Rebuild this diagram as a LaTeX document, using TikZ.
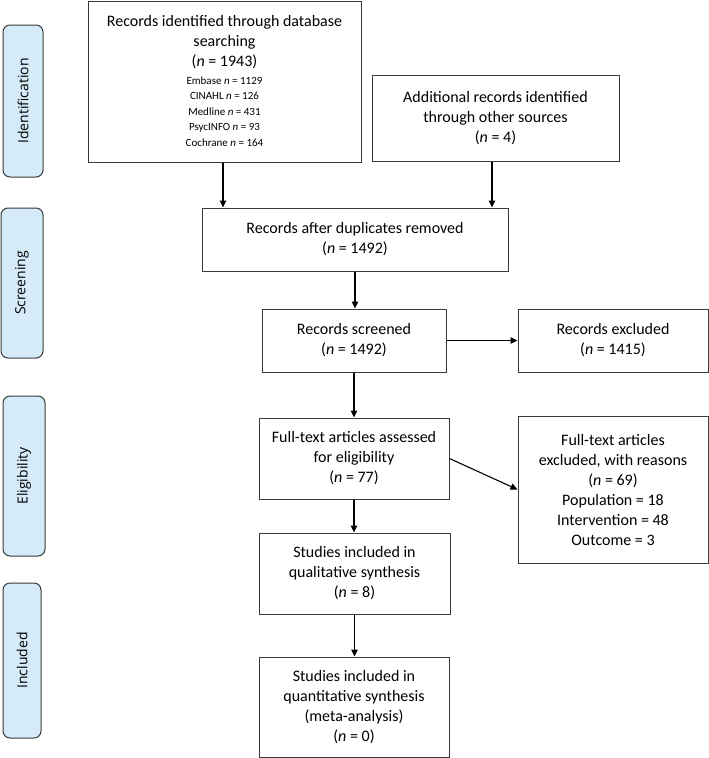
\documentclass[tikz,border=0pt]{standalone}
\usepackage{fontspec}
\setmainfont{Carlito}
\newfontfamily\labelfont{Open Sans}
\usetikzlibrary{arrows.meta}
\definecolor{stagefill}{HTML}{D5EBFA}
\definecolor{edge}{HTML}{3A3A3A}
\tikzset{
  box/.style={draw=edge, line width=1pt, fill=white, align=center, inner sep=0pt,
    font=\fontsize{16}{20}\selectfont},
  txt/.style={align=center, inner sep=0pt, font=\fontsize{16}{20}\selectfont},
  smalltxt/.style={align=center, inner sep=0pt, font=\fontsize{11}{15.5}\selectfont},
  stage/.style={draw=edge, line width=1pt, fill=stagefill, rounded corners=7pt,
    inner sep=0pt},
  stagetxt/.style={rotate=90, inner sep=0pt, font=\labelfont\fontsize{14}{16}\selectfont},
  arr/.style={draw=black, line width=1.1pt, -{Triangle[length=7pt,width=6.5pt]}}
}
\begin{document}
\begin{tikzpicture}[x=1pt,y=-1pt]
\useasboundingbox (0,0) rectangle (709,758);

% stage labels
\node[stage, minimum width=40pt, minimum height=152pt] (sid) at (23,101) {};
\node[stagetxt] (tid) at (sid.center) {Identification};
\node[stage, minimum width=42pt, minimum height=150pt] (ssc) at (22,283) {};
\node[stagetxt] (tsc) at (ssc.center) {Screening};
\node[stage, minimum width=42pt, minimum height=160pt] (sel) at (24,476) {};
\node[stagetxt] (tel) at (sel.center) {Eligibility};
\node[stage, minimum width=38pt, minimum height=155pt] (sin) at (22,660.5) {};
\node[stagetxt] (tin) at (sin.center) {Included};

% database box
\node[box, minimum width=273pt, minimum height=161pt] (db) at (224.5,81.5) {};
\node[txt] (dbtitle) at (224.5,42) {Records identified through database\\searching\\(\textit{n} = 1943)};
\node[smalltxt] (dblist) at (224.5,111.5) {Embase \textit{n} = 1129\\CINAHL \textit{n} = 126\\Medline \textit{n} = 431\\PsycINFO \textit{n} = 93\\Cochrane \textit{n} = 164};

\node[box, minimum width=247pt, minimum height=86pt] (add) at (495.5,118)
  {Additional records identified\\through other sources\\(\textit{n} = 4)};

\node[box, minimum width=306pt, minimum height=63pt] (dup) at (355,239.5)
  {Records after duplicates removed\\(\textit{n} = 1492)};

\node[box, minimum width=184pt, minimum height=63pt] (scr) at (354,340.5)
  {Records screened\\(\textit{n} = 1492)};

\node[box, minimum width=190pt, minimum height=63pt] (exc) at (613,340.5)
  {Records excluded\\(\textit{n} = 1415)};

\node[box, minimum width=190pt, minimum height=81pt] (full) at (354,458.5)
  {Full-text articles assessed\\for eligibility\\(\textit{n} = 77)};

\node[box, minimum width=190pt, minimum height=147pt] (rsn) at (613,489.5)
  {Full-text articles\\excluded, with reasons\\(\textit{n} = 69)\\Population = 18\\Intervention = 48\\Outcome = 3};

\node[box, minimum width=191pt, minimum height=81pt] (qual) at (354.5,573.5)
  {Studies included in\\qualitative synthesis\\(\textit{n} = 8)};

\node[box, minimum width=190pt, minimum height=100pt] (quant) at (354,707)
  {Studies included in\\quantitative synthesis\\(meta-analysis)\\(\textit{n} = 0)};

% connectors
\draw[arr] ([xshift=-1.5pt]db.south) -- ([xshift=-1.5pt]db.south |- dup.north);
\draw[arr] ([xshift=-3.5pt]add.south) -- ([xshift=-3.5pt]add.south |- dup.north);
\draw[arr] (dup.south) -- (dup.south |- scr.north);
\draw[arr] (scr.east) -- (exc.west);
\draw[arr] (scr.south) -- (scr.south |- full.north);
\draw[arr] (full.east) -- (rsn.west);
\draw[arr] (full.south) -- (full.south |- qual.north);
\draw[arr] (qual.south) -- (qual.south |- quant.north);
\end{tikzpicture}
\end{document}
